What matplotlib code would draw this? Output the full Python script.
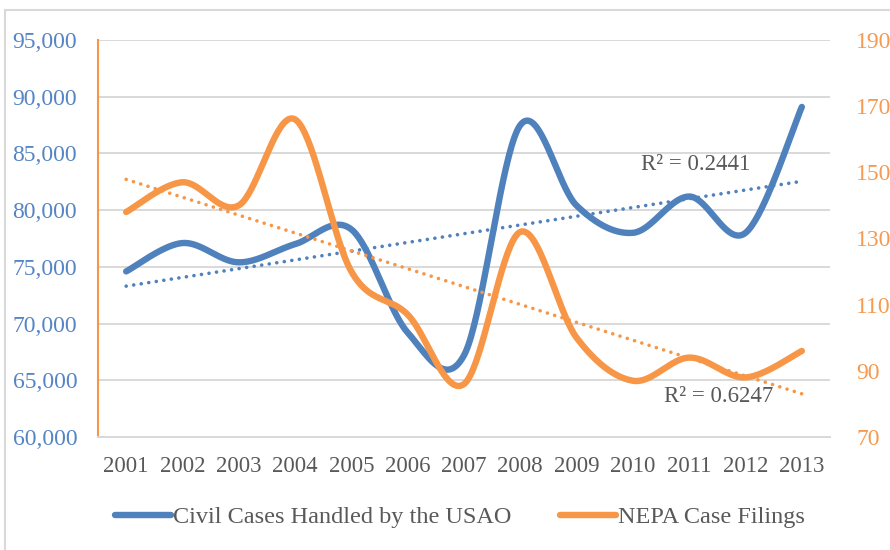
import numpy as np
import matplotlib
matplotlib.use("Agg")
import matplotlib.pyplot as plt
from matplotlib.lines import Line2D
from matplotlib.patches import Rectangle

years = ["2001", "2002", "2003", "2004", "2005", "2006", "2007",
         "2008", "2009", "2010", "2011", "2012", "2013"]
civil_cases = [74600, 77100, 75400, 77000, 78300, 69200, 67200,
               87500, 80400, 78000, 81200, 78000, 89100]
nepa_filings = [138, 147, 140, 166, 120, 107, 86, 132, 100, 87, 94, 88, 96]
left_ticks = [60000, 65000, 70000, 75000, 80000, 85000, 90000, 95000]
right_ticks = [70, 90, 110, 130, 150, 170, 190]
r2_civil = "R\u00b2 = 0.2441"
r2_nepa = "R\u00b2 = 0.6247"
label_civil = "Civil Cases Handled by the USAO"
label_nepa = "NEPA Case Filings"

BLUE = "#4F81BD"
ORANGE = "#F79646"
BLUE_TXT = "#5585C5"
ORANGE_TXT = "#F59A50"
GRAY_TXT = "#595959"
GRID = "#D9D9D9"

plt.rcParams['font.family'] = ['Liberation Serif', 'DejaVu Serif']


def smooth(xs, ys, n=40):
    xs = np.asarray(xs, float)
    ys = np.asarray(ys, float)
    P = np.column_stack([xs, ys])
    Pext = np.vstack([P[0], P, P[-1]])
    out = []
    t = np.linspace(0, 1, n)[:, None]
    for i in range(len(P) - 1):
        p0 = Pext[i + 1]
        p3 = Pext[i + 2]
        c1 = p0 + (Pext[i + 2] - Pext[i]) / 6.0
        c2 = p3 - (Pext[i + 3] - Pext[i + 1]) / 6.0
        seg = ((1 - t) ** 3) * p0 + 3 * ((1 - t) ** 2) * t * c1 + 3 * (1 - t) * t ** 2 * c2 + t ** 3 * p3
        out.append(seg if i == 0 else seg[1:])
    S = np.vstack(out)
    return S[:, 0], S[:, 1]


fig = plt.figure(figsize=(8.9, 5.5), dpi=100)
ax = fig.add_axes([98 / 890, 1 - 437 / 550, 732 / 890, 397 / 550])
ax2 = ax.twinx()

x = np.arange(len(years))

# gridlines
ax.set_ylim(60000, 95000)
ax.set_yticks(left_ticks)
ax.yaxis.grid(True, color=GRID, lw=1.4)
ax.set_axisbelow(True)
ax2.set_ylim(70, 190)
ax2.set_yticks(right_ticks)
ax.set_xlim(-0.5, len(years) - 0.5)

# civil line
sx, sy = smooth(x, civil_cases)
ax.plot(sx, sy, color=BLUE, lw=4.6, solid_capstyle='round', zorder=3)
c = np.polyfit(x, civil_cases, 1)
ax.plot([x[0], x[-1]], np.polyval(c, [x[0], x[-1]]), color=BLUE, lw=2.6,
        linestyle=(0, (0.01, 2.1)), dash_capstyle='round', zorder=3)

# nepa line
sx2, sy2 = smooth(x, nepa_filings)
ax2.plot(sx2, sy2, color=ORANGE, lw=4.6, solid_capstyle='round', zorder=3)
c2 = np.polyfit(x, nepa_filings, 1)
ax2.plot([x[0], x[-1]], np.polyval(c2, [x[0], x[-1]]), color=ORANGE, lw=2.6,
         linestyle=(0, (0.01, 2.1)), dash_capstyle='round', zorder=3)

# axes styling
for a in (ax, ax2):
    for s in ('top', 'right', 'left', 'bottom'):
        a.spines[s].set_visible(False)
ax.spines['left'].set_visible(True)
ax.spines['left'].set_color(ORANGE)
ax.spines['left'].set_linewidth(1.5)
ax.spines['bottom'].set_visible(True)
ax.spines['bottom'].set_color(GRID)
ax.spines['bottom'].set_linewidth(1.4)

ax.set_xticks(x)
ax.set_xticklabels(years)
ax.tick_params(axis='x', length=0, pad=14, labelsize=16.5, labelcolor=GRAY_TXT)
ax.set_yticklabels([f"{v:,}" for v in left_ticks])
ax.tick_params(axis='y', length=0, pad=15, labelsize=17, labelcolor=BLUE_TXT)
ax2.set_yticklabels([str(v) for v in right_ticks])
ax2.tick_params(axis='y', length=0, pad=19, labelsize=17, labelcolor=ORANGE_TXT)

# R^2 labels
ax.text(9.14, 84000, r2_civil, fontsize=16.5, color=GRAY_TXT,
        ha='left', va='center', zorder=4)
ax2.text(9.55, 82.1, r2_nepa, fontsize=16.5, color=GRAY_TXT,
         ha='left', va='center', zorder=4)

handles = [Line2D([], [], color=BLUE, lw=4.6, solid_capstyle='round'),
           Line2D([], [], color=ORANGE, lw=4.6, solid_capstyle='round')]
fig.legend(handles, [label_civil, label_nepa], loc='center',
           bbox_to_anchor=(460 / 890, 1 - 517 / 550), ncol=2, frameon=False,
           fontsize=17.5, labelcolor=GRAY_TXT, handlelength=2.3,
           handletextpad=0.1, columnspacing=2.0)

# chart border (partially visible)
fig.patches.append(Rectangle((5 / 890, -0.1), 1.2, 1 - 10 / 550 + 0.1,
                             transform=fig.transFigure, fill=False,
                             edgecolor="#D9D9D9", lw=1.5))

fig.savefig("out.png", dpi=100)
